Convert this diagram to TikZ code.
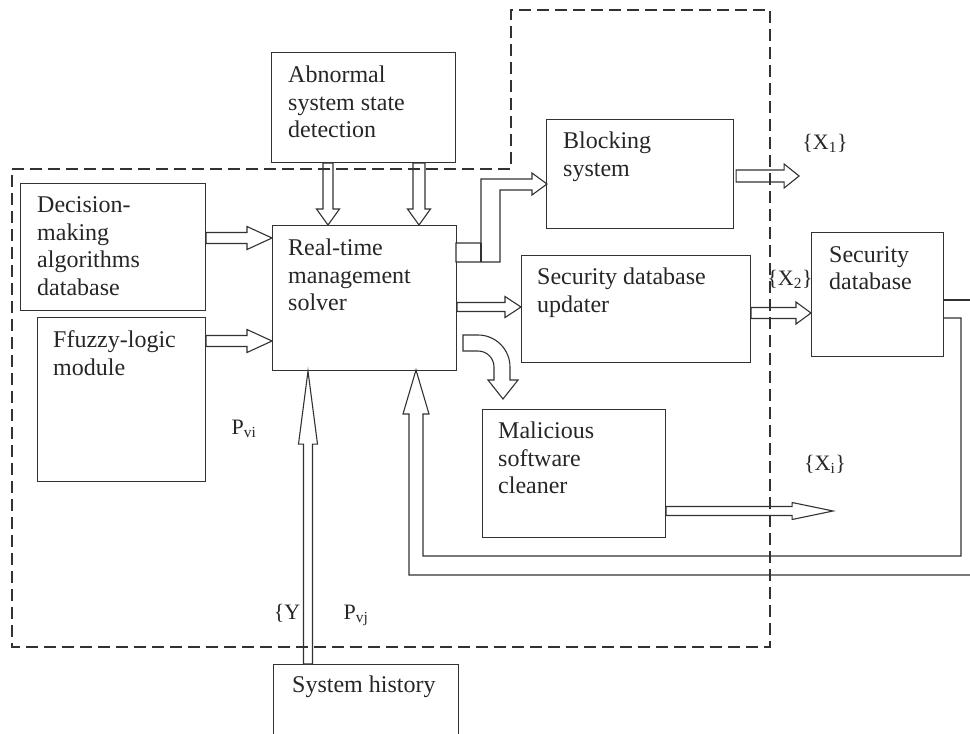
\documentclass[tikz,border=0pt]{standalone}
\usepackage{fontspec}
\setmainfont{Liberation Serif}
\usepackage{xcolor}
\definecolor{lngray}{RGB}{50,50,50}
\usetikzlibrary{calc}
\tikzset{
  blk/.style={draw=lngray,line width=1.1pt,inner sep=0pt,anchor=north west},
  txt/.style={anchor=north west,inner sep=0pt,align=left,text=black!85,font=\fontsize{24}{27.5}\selectfont},
  lbl/.style={inner sep=0pt,text=black!85,font=\fontsize{22}{26}\selectfont},
  hol/.style={draw=lngray,fill=white,line width=1.1pt},
  zone/.style={draw=lngray,line width=1.1pt,dash pattern=on 12pt off 6pt}
}
% hollow arrow: from, to, half shaft, half head, head length
\newcommand{\harr}[5]{\coordinate (hb) at ($(#2)!#5!(#1)$);
  \draw[hol] ($(#1)!#3!90:(#2)$) -- ($(hb)!#3!90:(#2)$) -- ($(hb)!#4!90:(#2)$) -- (#2)
    -- ($(hb)!#4!-90:(#2)$) -- ($(hb)!#3!-90:(#2)$) -- ($(#1)!#3!-90:(#2)$) -- cycle;}
\begin{document}
\begin{tikzpicture}[x=1pt,y=-1pt]
\useasboundingbox (0,0) rectangle (970,734);
% ---- blocks ----
\node[blk,minimum width=184pt,minimum height=110pt] (abn) at (271,52) {};
\node[blk,minimum width=185pt,minimum height=127pt] (dec) at (20,183) {};
\node[blk,minimum width=168pt,minimum height=164pt] (fuz) at (37,317) {};
\node[blk,minimum width=184pt,minimum height=145pt] (sol) at (272,225) {};
\node[blk,minimum width=187pt,minimum height=109pt] (blk) at (546,119) {};
\node[blk,minimum width=229pt,minimum height=107pt] (upd) at (521,255) {};
\node[blk,minimum width=132pt,minimum height=124pt] (sdb) at (811,232) {};
\node[blk,minimum width=183pt,minimum height=128pt] (mal) at (482,409) {};
\node[blk,minimum width=185pt,minimum height=80pt] (hist) at (273,664) {};
\node[txt] (abnt) at ([shift={(17,14)}]abn.north west) {Abnormal\\system state\\detection};
\node[txt] (dect) at ([shift={(17,13.5)}]dec.north west) {Decision-\\making\\algorithms\\database};
\node[txt] (fuzt) at ([shift={(16,13.5)}]fuz.north west) {Ffuzzy-logic\\module};
\node[txt] (solt) at ([shift={(16,14)}]sol.north west) {Real-time\\management\\solver};
\node[txt] (blkt) at ([shift={(17,13)}]blk.north west) {Blocking\\system};
\node[txt] (updt) at ([shift={(16,13)}]upd.north west) {Security database\\updater};
\node[txt] (sdbt) at ([shift={(18,14)}]sdb.north west) {Security\\database};
\node[txt] (malt) at ([shift={(16,13)}]mal.north west) {Malicious\\software\\cleaner};
\node[txt] (histt) at ([shift={(19,12)}]hist.north west) {System history};
% ---- straight hollow arrows ----
\coordinate (t1) at ($(sol.north west)+(56,0)$);
\coordinate (t2) at ($(sol.north west)+(147,0)$);
\harr{t1 |- abn.south}{t1}{5pt}{11.5pt}{16pt}
\harr{t2 |- abn.south}{t2}{6pt}{11.5pt}{16pt}
\coordinate (t3) at ($(sol.north west)+(0,13)$);
\coordinate (t4) at ($(sol.north west)+(0,116)$);
\harr{dec.east |- t3}{t3}{5.5pt}{11.5pt}{25pt}
\harr{fuz.east |- t4}{t4}{5.5pt}{11.5pt}{25pt}
\coordinate (t5) at ($(upd.north west)+(0,52)$);
\harr{sol.east |- t5}{t5}{4.5pt}{10.5pt}{16pt}
\coordinate (s6) at ($(blk.north east)+(2,57)$);
\coordinate (t6) at ($(s6)+(63,0)$);
\harr{s6}{t6}{6pt}{12pt}{15pt}
\coordinate (t7) at ($(sdb.north west)+(0,81)$);
\harr{upd.east |- t7}{t7}{5.5pt}{11pt}{15pt}
\coordinate (s8) at ($(mal.north east)+(0,102)$);
\coordinate (t8) at ($(s8)+(167,0)$);
\harr{s8}{t8}{4.5pt}{8.5pt}{41pt}
\coordinate (t9) at ($(sol.south west)+(36,0)$);
\harr{t9 |- hist.north}{t9}{4.5pt}{9.5pt}{73pt}
% ---- bent hollow arrows ----
\draw[hol] (456,243) -- (481,243) -- (481,179) -- (532,179) -- (532,173) -- (547,184)
  -- (532,195) -- (532,190) -- (500,190) -- (500,262) -- (456,262) -- cycle;
\draw[lngray,line width=1.1pt] (481,243) -- (481,262);
\draw[hol] (463,335) -- (478,335) arc[start angle=90,end angle=0,radius=32pt] -- (510,380)
  -- (518,380) -- (503,399) -- (488,380) -- (494,380) -- (494,367)
  arc[start angle=0,end angle=90,radius=16pt] -- (463,351) -- cycle;
% feedback from security database
\draw[lngray,line width=1.1pt] (sdb.east |- 0,300) -- (970,300);
\draw[lngray,line width=1.1pt] (sdb.east |- 0,318) -- (961,318) -- (961,556) -- (423,556) -- (423,414)
  -- (429,414) -- (416,370) -- (403,414) -- (409,414) -- (409,575) -- (970,575);
% ---- dashed zone ----
\draw[zone] (12,169) -- (511,169) -- (511,10) -- (770,10) -- (770,647) -- (12,647) -- cycle;
% ---- labels ----
\node[lbl] (x1) at (825,143) {\{X\textsubscript{1}\}};
\node[lbl] (x2) at (790,279) {\{X\textsubscript{2}\}};
\node[lbl] (xi) at (825,464) {\{X\textsubscript{i}\}};
\node[lbl] (pvi) at (244,429) {P\textsubscript{vi}};
\node[lbl] (yy) at (287,613) {\{Y};
\node[lbl] (pvj) at (356,615) {P\textsubscript{vj}};
\end{tikzpicture}
\end{document}
